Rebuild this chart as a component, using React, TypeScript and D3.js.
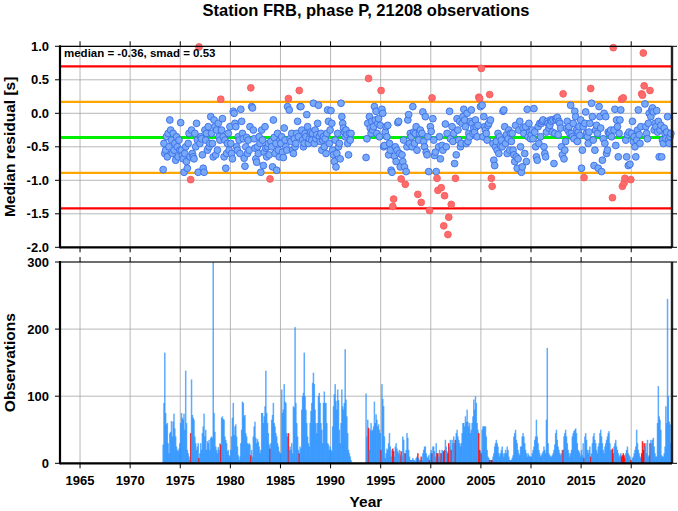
import * as d3 from "d3";

// monthly median residuals [s], one row of 12 months per year
const residStart = 1973;
const residuals: (number | null)[][] = [
  [null, null, null, -0.84, -0.45, -0.6, -0.55, -0.35, -0.65, -0.3, -0.5, -0.1],
  [-0.25, -0.4, -0.6, -0.3, -0.55, -0.45, -0.7, -0.35, -0.5, -0.65, -0.4, -0.55],
  [-0.14, -0.55, -0.63, -0.68, -0.88, -0.6, -0.5, -0.72, -0.82, -0.45, -0.3, -0.65],
  [-0.99, -0.25, -0.6, -0.65, -0.68, -0.3, -0.5, -0.15, -0.4, -0.88, 0.99, -0.45],
  [-0.35, -0.38, -0.62, -0.82, -0.88, -0.25, -0.4, -0.3, -0.55, -0.2, -0.5, -0.45],
  [-0.05, -0.3, -0.45, -0.65, -0.1, -0.2, -0.62, -0.25, -0.55, -0.15, -0.35, -0.4],
  [0.21, -0.25, -0.08, -0.35, -0.65, -0.4, -0.82, -0.6, -0.45, -0.3, -0.55, -0.2],
  [-0.45, -0.6, -0.68, 0.03, 0.0, -0.15, -0.2, -0.5, -0.55, -0.35, -0.4, -0.6],
  [0.06, -0.12, -0.3, -0.38, -0.67, -0.79, -0.5, -0.36, -0.6, -0.4, -0.55, -0.2],
  [0.38, 0.1, 0.08, -0.25, -0.38, -0.52, -0.68, -0.73, -0.5, -0.6, -0.35, -0.45],
  [-0.88, -0.25, -0.4, -0.78, -0.58, -0.2, -0.52, -0.65, -0.5, -0.45, -0.62, -0.98],
  [-0.42, -0.5, -0.8, -0.1, -0.36, -0.6, -0.45, -0.85, -0.3, -0.55, -0.65, -0.4],
  [-0.45, -0.35, -0.58, -0.66, -0.22, -0.4, -0.5, -0.55, 0.1, 0.22, 0.05, -0.38],
  [-0.42, -0.3, -0.55, -0.6, -0.38, -0.5, -0.45, -0.3, -0.12, -0.35, 0.34, 0.1],
  [0.1, -0.25, -0.4, -0.5, -0.45, -0.3, -0.35, -0.02, -0.2, -0.45, -0.38, -0.3],
  [-0.28, -0.4, -0.3, 0.15, -0.45, -0.25, -0.38, -0.32, -0.15, 0.12, -0.35, -0.42],
  [-0.3, -0.55, -0.4, -0.35, -0.5, -0.38, -0.6, -0.3, 0.05, -0.12, -0.45, -0.25],
  [0.04, -0.15, -0.55, -0.62, -0.72, -0.4, -0.8, -0.6, -0.3, -0.5, -0.45, -0.68],
  [0.15, -0.05, -0.15, -0.22, -0.28, -0.35, -0.25, -0.32, -0.45, -0.62, -0.3, -0.4],
  [-0.3, null, null, null, null, null, null, null, null, null, null, null],
  [null, null, null, null, null, null, -0.66, -0.38, -0.15, 0.52, -0.05, -0.22],
  [-0.3, -0.12, -0.25, -0.2, 0.1, -0.1, 0.03, -0.3, -0.15, -0.08, -0.35, -0.18],
  [0.34, 0.06, 0.0, -0.5, -0.48, -0.28, -0.2, -0.35, -0.18, -0.62, -0.45, -0.55],
  [-0.85, -0.88, -1.39, -1.28, -0.64, -0.5, -0.72, -0.55, -0.14, -0.12, -0.6, -0.8],
  [-0.98, -0.62, -0.72, -0.4, -0.8, -1.06, -0.87, -0.5, -0.1, -0.02, -0.45, -0.3],
  [-0.35, -0.5, 0.1, -0.28, -0.45, -0.3, -0.2, -0.55, -1.21, -0.4, -0.3, -0.25],
  [-1.33, -0.3, 0.02, -0.42, -0.5, -0.05, -0.58, -0.62, -0.35, -0.87, -1.45, -0.2],
  [-0.27, 0.23, -0.08, -0.4, -0.63, -0.58, -0.87, -0.97, -1.15, -0.5, -0.35, -0.68],
  [-1.11, -0.48, -0.55, -1.68, -1.23, -0.16, -0.5, -0.3, -1.81, -1.55, 0.03, -0.38],
  [-1.36, -0.2, -0.42, -0.3, -0.75, -0.97, -0.62, -0.08, -0.25, -0.4, -0.12, -0.5],
  [-0.45, -0.15, -0.05, 0.06, -0.1, -0.2, -0.45, 0.0, -0.42, -0.3, -0.35, -0.12],
  [0.05, -0.15, -0.3, -0.22, -0.28, -0.1, -0.2, -0.35, -0.18, 0.24, 0.22, 0.1],
  [0.67, 0.12, -0.35, -0.05, -0.2, -0.25, -0.3, -0.4, -0.18, -0.15, 0.28, -0.1],
  [-0.97, -1.09, -0.45, -0.7, -0.78, -0.5, -0.42, -0.55, -0.3, -0.6, -0.35, -0.48],
  [-0.4, -0.5, 0.03, 0.05, -0.2, -0.45, -0.32, -0.6, -0.38, -0.25, -0.55, -0.3],
  [-0.42, -0.3, -0.55, -0.62, -0.72, -0.18, -0.65, -0.82, -0.68, -0.25, -0.12, -0.5],
  [-0.88, -0.8, -0.22, -0.3, -0.6, -0.2, -0.72, 0.06, -0.35, -0.15, -0.28, -0.38],
  [-0.32, -0.25, -0.38, 0.07, -0.28, -0.5, -0.65, -0.7, -0.2, -0.45, -0.15, -0.35],
  [-0.15, -0.12, -0.1, -0.5, -0.6, -0.65, -0.28, -0.12, -0.15, -0.22, -0.18, -0.1],
  [-0.12, -0.28, -0.1, -0.75, -0.3, -0.08, -0.1, -0.06, -0.32, -0.12, -0.15, -0.22],
  [-0.5, -0.62, 0.29, -0.68, -0.55, -0.42, -0.22, -0.12, -0.26, -0.2, -0.3, 0.12],
  [-0.3, -0.35, -0.15, -0.38, 0.03, -0.05, -0.25, -0.42, -0.28, -0.2, -0.33, -0.1],
  [-0.82, -0.55, -0.2, -0.96, -0.15, 0.02, -0.3, -0.35, -0.45, -0.28, -0.15, 0.37],
  [0.15, -0.05, -0.4, -0.78, -0.55, -0.25, -0.18, -0.3, -0.82, 0.1, -0.05, -0.22],
  [-0.87, -0.7, -0.38, 0.0, -0.45, -0.05, -0.6, -0.55, -0.28, -0.3, -0.3, -0.25],
  [-0.35, -1.26, 0.98, -0.25, 0.06, -0.48, -0.1, -0.2, -0.65, -0.3, -0.1, 0.05],
  [0.21, -1.09, 0.23, -1.04, -0.97, -0.4, -0.65, -0.32, -0.78, -0.28, -0.76, -0.99],
  [-0.3, -0.12, -0.42, -0.35, -0.5, -0.65, -0.4, -0.25, 0.05, -0.32, -0.45, -0.2],
  [0.29, 0.27, 0.9, 0.41, 0.14, -0.2, -0.3, -0.38, -0.15, 0.0, 0.34, -0.05],
  [0.05, 0.08, 0.02, -0.25, -0.15, -0.2, 0.04, -0.28, -0.12, -0.65, -0.25, -0.18],
  [-0.65, -0.4, -0.45, -0.22, -0.3, -0.38, -0.28, -0.05, -0.4, -0.45, -0.35, -0.3],
];

// observations per month, same layout
const counts: number[][] = [
  [0, 0, 0, 28, 90, 165, 75, 58, 60, 30, 15, 45],
  [47, 63, 40, 62, 74, 52, 40, 25, 20, 18, 22, 30],
  [60, 75, 68, 65, 74, 50, 138, 60, 20, 15, 10, 5],
  [45, 125, 72, 68, 65, 40, 30, 20, 25, 30, 8, 15],
  [30, 20, 45, 55, 74, 40, 50, 20, 33, 30, 35, 20],
  [38, 40, 38, 300, 75, 47, 25, 20, 15, 24, 20, 30],
  [28, 68, 70, 66, 65, 40, 35, 30, 18, 20, 12, 10],
  [20, 40, 68, 90, 42, 55, 58, 40, 25, 12, 5, 10],
  [30, 50, 92, 90, 70, 72, 45, 40, 30, 28, 30, 28],
  [12, 20, 10, 40, 55, 62, 38, 30, 36, 32, 25, 15],
  [20, 75, 75, 60, 70, 85, 138, 75, 60, 45, 28, 22],
  [30, 65, 72, 90, 60, 55, 45, 40, 30, 25, 18, 15],
  [15, 110, 75, 80, 118, 92, 90, 45, 40, 45, 20, 25],
  [20, 30, 15, 85, 83, 203, 90, 60, 40, 20, 15, 25],
  [22, 80, 100, 105, 165, 100, 80, 60, 40, 30, 25, 60],
  [78, 90, 120, 135, 118, 80, 60, 45, 60, 100, 105, 90],
  [60, 50, 30, 90, 107, 90, 90, 60, 30, 28, 20, 25],
  [20, 18, 55, 85, 103, 118, 93, 80, 110, 94, 50, 30],
  [60, 110, 85, 80, 90, 170, 95, 70, 45, 20, 15, 10],
  [5, 0, 0, 0, 0, 0, 0, 0, 0, 0, 0, 0],
  [0, 0, 0, 0, 0, 0, 104, 40, 65, 53, 20, 50],
  [60, 48, 50, 55, 92, 60, 73, 65, 55, 58, 50, 45],
  [20, 118, 96, 85, 40, 8, 15, 22, 20, 30, 45, 25],
  [10, 20, 22, 18, 10, 25, 30, 22, 18, 15, 20, 12],
  [18, 10, 40, 35, 15, 15, 20, 45, 38, 20, 10, 5],
  [5, 5, 8, 5, 5, 3, 8, 10, 15, 8, 5, 5],
  [10, 5, 15, 20, 25, 25, 15, 10, 8, 12, 5, 15],
  [20, 15, 25, 25, 18, 10, 30, 15, 15, 10, 20, 15],
  [15, 20, 18, 18, 20, 35, 25, 18, 15, 30, 25, 35],
  [20, 35, 30, 40, 30, 35, 45, 50, 40, 35, 30, 25],
  [30, 45, 60, 60, 55, 70, 62, 80, 62, 55, 60, 45],
  [50, 60, 70, 95, 80, 100, 90, 60, 50, 45, 20, 18],
  [15, 50, 55, 55, 55, 55, 40, 20, 10, 8, 5, 5],
  [5, 5, 10, 15, 25, 30, 35, 30, 25, 15, 10, 15],
  [20, 25, 15, 10, 15, 20, 15, 25, 20, 10, 5, 5],
  [5, 8, 12, 40, 45, 50, 35, 30, 20, 15, 12, 25],
  [25, 40, 45, 40, 30, 20, 15, 10, 15, 12, 10, 10],
  [10, 15, 20, 25, 35, 40, 65, 40, 30, 20, 15, 10],
  [12, 15, 18, 25, 20, 15, 65, 172, 30, 15, 12, 10],
  [10, 12, 15, 20, 28, 45, 50, 35, 25, 20, 15, 12],
  [15, 20, 20, 40, 45, 50, 40, 30, 20, 15, 10, 15],
  [20, 40, 45, 48, 50, 52, 45, 30, 20, 18, 15, 10],
  [20, 12, 30, 8, 40, 45, 35, 20, 15, 20, 25, 10],
  [15, 30, 40, 45, 35, 30, 20, 15, 25, 30, 45, 50],
  [40, 30, 20, 15, 25, 30, 35, 40, 45, 48, 30, 20],
  [20, 22, 15, 25, 30, 35, 25, 20, 15, 10, 12, 15],
  [10, 12, 15, 12, 8, 15, 20, 25, 15, 12, 10, 5],
  [5, 8, 10, 15, 20, 25, 50, 30, 20, 15, 10, 8],
  [15, 33, 20, 30, 25, 30, 15, 35, 10, 12, 30, 35],
  [30, 35, 38, 25, 15, 10, 10, 60, 115, 70, 65, 50],
  [12, 10, 10, 15, 25, 85, 60, 245, 100, 62, 58, 30],
];

const median = -0.36;
const smad = 0.53;
const totalObs = 21208;
const yearTicks = [1965, 1970, 1975, 1980, 1985, 1990, 1995, 2000, 2005, 2010, 2015, 2020];
const residTicks = [-2.0, -1.5, -1.0, -0.5, 0.0, 0.5, 1.0];
const countTicks = [0, 100, 200, 300];

type Month = { t: number; v: number | null; n: number; out: boolean };

const months: Month[] = [];
residuals.forEach((row, i) => {
  row.forEach((v, m) => {
    const out = v !== null && Math.abs(v - median) > smad;
    months.push({ t: residStart + i + m / 12, v, n: counts[i][m], out });
  });
});

export default function App() {
  const W = 678, H = 511;
  const left = 60, right = 672;
  const top1 = 46.3, bot1 = 247.3;
  const top2 = 262, bot2 = 463.3;

  const x = d3.scaleLinear().domain([1963, 2024.07]).range([left, right]);
  const y1 = d3.scaleLinear().domain([-2, 1]).range([bot1, top1]);
  const y2 = d3.scaleLinear().domain([0, 300]).range([bot2, top2]);

  const font = "'Liberation Sans', Arial, Helvetica, sans-serif";
  const grid = "#a6a6a6";
  const tl = 5;

  const refLines = [
    { v: median + 2 * smad, c: "#ff0000", w: 2.2 },
    { v: median - 2 * smad, c: "#ff0000", w: 2.2 },
    { v: median + smad, c: "#ffa500", w: 2.2 },
    { v: median - smad, c: "#ffa500", w: 2.2 },
    { v: median, c: "#00ee00", w: 3 },
  ];

  const pts = months.filter((d) => d.v !== null);
  const bars = months.filter((d) => d.n > 0);
  const bw = 1.5;

  return (
    <svg
      width={W}
      height={H}
      style={{ position: "fixed", left: 0, top: 0, background: "#fff" }}
      fontFamily={font}
      fontWeight="bold"
    >
      <text x={(left + right) / 2} y={16} fontSize={16.5} textAnchor="middle">
        {`Station FRB, phase P, ${totalObs} observations`}
      </text>

      {/* grid */}
      {yearTicks.map((t) => (
        <g key={"g" + t}>
          <line x1={x(t)} x2={x(t)} y1={top1} y2={bot1} stroke={grid} strokeWidth={0.8} />
          <line x1={x(t)} x2={x(t)} y1={top2} y2={bot2} stroke={grid} strokeWidth={0.8} />
        </g>
      ))}
      {residTicks.map((t) => (
        <line key={"r" + t} x1={left} x2={right} y1={y1(t)} y2={y1(t)} stroke={grid} strokeWidth={0.8} />
      ))}
      {countTicks.map((t) => (
        <line key={"c" + t} x1={left} x2={right} y1={y2(t)} y2={y2(t)} stroke={grid} strokeWidth={0.8} />
      ))}

      {refLines.map((l, i) => (
        <line key={"l" + i} x1={left} x2={right} y1={y1(l.v)} y2={y1(l.v)} stroke={l.c} strokeWidth={l.w} />
      ))}

      {pts.map((d, i) => (
        <circle
          key={"p" + i}
          cx={x(d.t + 1 / 24)}
          cy={y1(d.v as number)}
          r={3.4}
          fill={d.out ? "#ff6a6a" : "#78a8f8"}
          stroke={d.out ? "#f25c5c" : "#3a6ee8"}
          strokeWidth={0.9}
        />
      ))}

      {bars.map((d, i) => (
        <rect
          key={"b" + i}
          x={x(d.t + 1 / 24) - bw / 2}
          y={y2(d.n)}
          width={bw}
          height={y2(0) - y2(d.n)}
          fill={d.out ? "#ff0000" : "#1e8cff"}
          fillOpacity={d.out ? 0.85 : 0.72}
        />
      ))}

      <text x={64} y={57} fontSize={11.5}>
        {`median = ${median.toFixed(2)}, smad = ${smad.toFixed(2)}`}
      </text>

      {/* frames */}
      {[
        [top1, bot1],
        [top2, bot2],
      ].map(([t, b], k) => (
        <g key={"f" + k}>
          <line x1={left} x2={right} y1={t} y2={t} stroke="#000" strokeWidth={1.2} />
          <line x1={right} x2={right} y1={t} y2={b} stroke="#222" strokeWidth={2.4} />
          <line x1={left} x2={right} y1={b} y2={b} stroke="#000" strokeWidth={2.2} />
          <line x1={left} x2={left} y1={t - 1} y2={b + 1} stroke="#000" strokeWidth={2.2} />
          {yearTicks.map((yt) => (
            <g key={yt}>
              <line x1={x(yt)} x2={x(yt)} y1={t} y2={t - tl} stroke="#000" />
              <line x1={x(yt)} x2={x(yt)} y1={b} y2={b + tl} stroke="#000" />
            </g>
          ))}
        </g>
      ))}

      {residTicks.map((t) => (
        <g key={"rt" + t}>
          <line x1={left} x2={left - tl} y1={y1(t)} y2={y1(t)} stroke="#000" />
          <line x1={right} x2={right + tl} y1={y1(t)} y2={y1(t)} stroke="#000" />
          <text x={49} y={y1(t)} dy="0.36em" fontSize={13} textAnchor="end">
            {t.toFixed(1)}
          </text>
        </g>
      ))}
      {countTicks.map((t) => (
        <g key={"ct" + t}>
          <line x1={left} x2={left - tl} y1={y2(t)} y2={y2(t)} stroke="#000" />
          <line x1={right} x2={right + tl} y1={y2(t)} y2={y2(t)} stroke="#000" />
          <text x={49} y={y2(t)} dy="0.36em" fontSize={13} textAnchor="end">
            {t}
          </text>
        </g>
      ))}
      {yearTicks.map((t) => (
        <text key={"yl" + t} x={x(t)} y={485} fontSize={13} textAnchor="middle">
          {t}
        </text>
      ))}

      <text x={(left + right) / 2} y={507} fontSize={15.5} textAnchor="middle">
        Year
      </text>
      <text transform={`translate(15,${(top1 + bot1) / 2}) rotate(-90)`} fontSize={15.5} textAnchor="middle">
        Median residual [s]
      </text>
      <text transform={`translate(15,${(top2 + bot2) / 2}) rotate(-90)`} fontSize={15.5} textAnchor="middle">
        Observations
      </text>
    </svg>
  );
}
